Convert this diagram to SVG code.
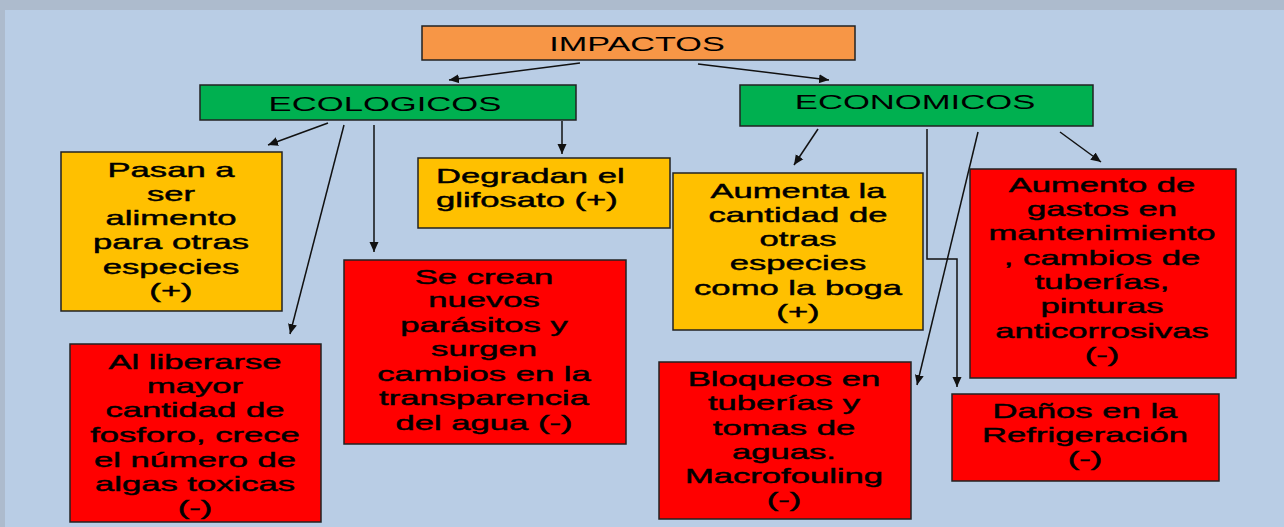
<svg xmlns="http://www.w3.org/2000/svg" width="1284" height="527" viewBox="0 0 1284 527">
<style>
.box{stroke:#222;stroke-width:1.5}
.or{fill:#f79646}.gr{fill:#00b050}.ye{fill:#ffc000}.rd{fill:#ff0000}
text{font-family:"Liberation Sans",Arial,sans-serif;font-size:21px;fill:#000;text-anchor:middle}
.bt{stroke:#000;stroke-width:0.45}
.lt{text-anchor:start}
.con{fill:none;stroke:#111;stroke-width:1.5}
</style>
<defs>
<marker id="ah" markerUnits="userSpaceOnUse" markerWidth="10" markerHeight="10" viewBox="0 0 10 10" refX="10" refY="5" orient="auto">
<path d="M0,0.5 L10,5 L0,9.5 z" fill="#111"/>
</marker>
</defs>
<rect x="0" y="0" width="1284" height="527" fill="#b9cde5"/>
<rect x="0" y="0" width="1284" height="10" fill="#adbbcd"/>
<rect x="0" y="0" width="5" height="527" fill="#adbbcd"/>

<g id="connectors">
<line class="con" x1="580" y1="63" x2="449" y2="80" marker-end="url(#ah)"/>
<line class="con" x1="698" y1="64" x2="829" y2="80" marker-end="url(#ah)"/>
<line class="con" x1="328" y1="123" x2="268" y2="145" marker-end="url(#ah)"/>
<line class="con" x1="344" y1="125" x2="290" y2="334" marker-end="url(#ah)"/>
<line class="con" x1="374" y1="125" x2="374" y2="252" marker-end="url(#ah)"/>
<line class="con" x1="562" y1="121" x2="562" y2="154" marker-end="url(#ah)"/>
<line class="con" x1="818" y1="129" x2="794" y2="165" marker-end="url(#ah)"/>
<polyline class="con" points="927,129 927,259 957,259 957,387" marker-end="url(#ah)"/>
<line class="con" x1="978" y1="132" x2="917" y2="385" marker-end="url(#ah)"/>
<line class="con" x1="1060" y1="132" x2="1101" y2="162" marker-end="url(#ah)"/>
</g>

<g id="impactos">
<rect class="box or" x="422" y="26" width="433" height="34"/>
<text transform="translate(637,0) scale(1.63,1)" x="0" y="51">IMPACTOS</text>
</g>

<g id="ecologicos">
<rect class="box gr" x="200" y="85" width="376" height="35"/>
<text transform="translate(385,0) scale(1.65,1)" x="0" y="111">ECOLOGICOS</text>
</g>

<g id="economicos">
<rect class="box gr" x="740" y="85" width="353" height="41"/>
<text transform="translate(915,0) scale(1.65,1)" x="0" y="109">ECONOMICOS</text>
</g>

<g id="pasan">
<rect class="box ye" x="61" y="152" width="221" height="159"/>
<text class="bt" transform="translate(171,0) scale(1.65,1)"><tspan x="0" y="177">Pasan a</tspan><tspan x="0" y="201">ser</tspan><tspan x="0" y="225">alimento</tspan><tspan x="0" y="249.5">para otras</tspan><tspan x="0" y="274">especies</tspan><tspan x="0" y="298">(+)</tspan></text>
</g>

<g id="liberarse">
<rect class="box rd" x="70" y="344" width="251" height="178"/>
<text class="bt" transform="translate(195,0) scale(1.65,1)"><tspan x="0" y="369">Al liberarse</tspan><tspan x="0" y="393.5">mayor</tspan><tspan x="0" y="417.5">cantidad de</tspan><tspan x="0" y="442">fosforo, crece</tspan><tspan x="0" y="467">el número de</tspan><tspan x="0" y="491">algas toxicas</tspan><tspan x="0" y="515">(-)</tspan></text>
</g>

<g id="secrean">
<rect class="box rd" x="344" y="260" width="282" height="184"/>
<text class="bt" transform="translate(484,0) scale(1.65,1)"><tspan x="0" y="284">Se crean</tspan><tspan x="0" y="307.5">nuevos</tspan><tspan x="0" y="332">parásitos y</tspan><tspan x="0" y="356.5">surgen</tspan><tspan x="0" y="381">cambios en la</tspan><tspan x="0" y="405">transparencia</tspan><tspan x="0" y="430">del agua (-)</tspan></text>
</g>

<g id="degradan">
<rect class="box ye" x="418" y="158" width="252" height="70"/>
<text class="bt lt" transform="translate(436,0) scale(1.65,1)"><tspan x="0" y="183">Degradan el</tspan><tspan x="0" y="207">glifosato (+)</tspan></text>
</g>

<g id="aumenta">
<rect class="box ye" x="673" y="173" width="250" height="157"/>
<text class="bt" transform="translate(798,0) scale(1.65,1)"><tspan x="0" y="198">Aumenta la</tspan><tspan x="0" y="222">cantidad de</tspan><tspan x="0" y="246">otras</tspan><tspan x="0" y="270.5">especies</tspan><tspan x="0" y="295">como la boga</tspan><tspan x="0" y="319">(+)</tspan></text>
</g>

<g id="gastos">
<rect class="box rd" x="970" y="169" width="266" height="209"/>
<text class="bt" transform="translate(1102,0) scale(1.65,1)"><tspan x="0" y="192">Aumento de</tspan><tspan x="0" y="216">gastos en</tspan><tspan x="0" y="240">mantenimiento</tspan><tspan x="0" y="265">, cambios de</tspan><tspan x="0" y="289.5">tuberías,</tspan><tspan x="0" y="313.5">pinturas</tspan><tspan x="0" y="338">anticorrosivas</tspan><tspan x="0" y="362">(-)</tspan></text>
</g>

<g id="bloqueos">
<rect class="box rd" x="659" y="362" width="252" height="157"/>
<text class="bt" transform="translate(784,0) scale(1.65,1)"><tspan x="0" y="386.5">Bloqueos en</tspan><tspan x="0" y="410.5">tuberías y</tspan><tspan x="0" y="435">tomas de</tspan><tspan x="0" y="459">aguas.</tspan><tspan x="0" y="483">Macrofouling</tspan><tspan x="0" y="507">(-)</tspan></text>
</g>

<g id="danos">
<rect class="box rd" x="952" y="394" width="267" height="87"/>
<text class="bt" transform="translate(1085,0) scale(1.65,1)"><tspan x="0" y="418">Daños en la</tspan><tspan x="0" y="442">Refrigeración</tspan><tspan x="0" y="466">(-)</tspan></text>
</g>
</svg>
